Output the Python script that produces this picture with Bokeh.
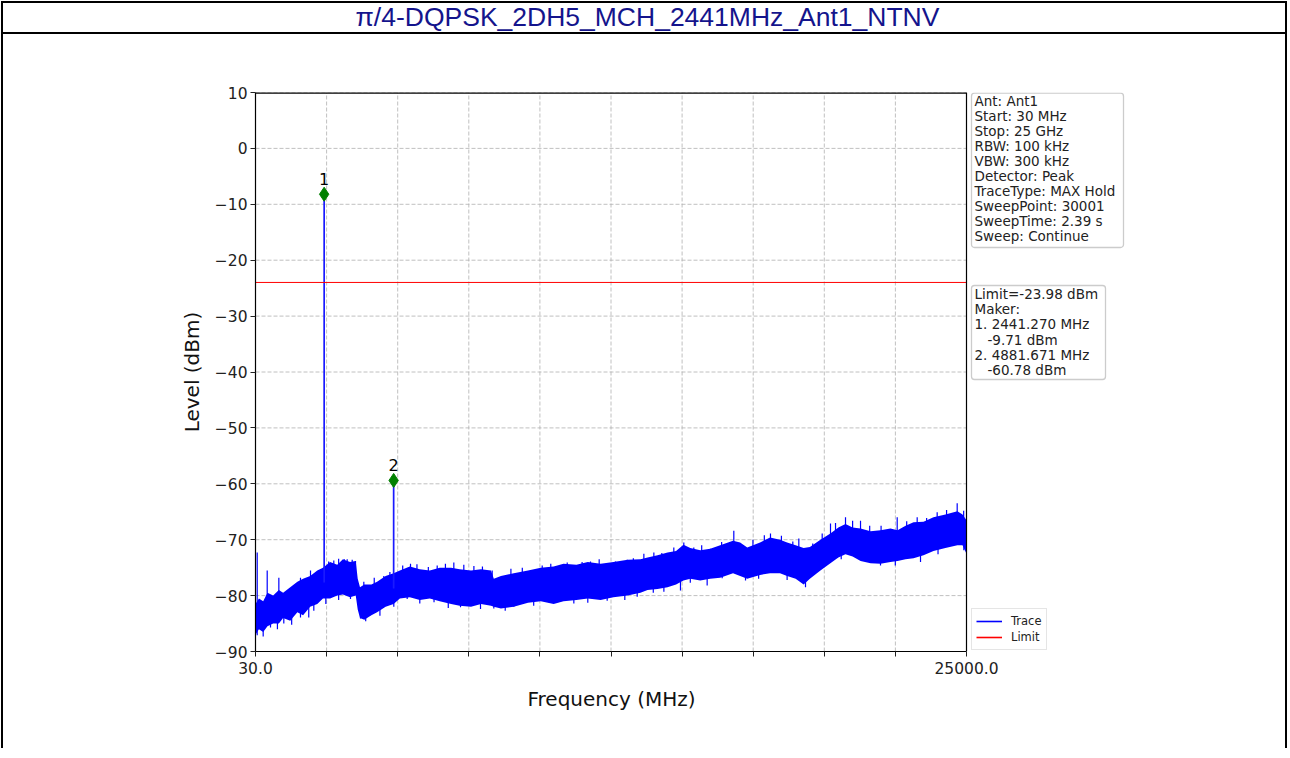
import numpy as np
from bokeh.plotting import figure
from bokeh.models import FixedTicker, Legend, LegendItem, Range1d, Title
from bokeh.layouts import column
from bokeh.embed import file_html
from bokeh.resources import INLINE
from bokeh.core.properties import value

TITLE = "π/4-DQPSK_2DH5_MCH_2441MHz_Ant1_NTNV"

# noise band envelope of the trace (MHz, dBm)
freq = [30, 150, 300, 450, 650, 850, 1000, 1250, 1500, 1700, 1950, 2200, 2400, 2650,
        2900, 3100, 3350, 3550, 3620, 3700, 3850, 4100, 4300, 4600, 4880, 5100, 5450,
        5800, 6150, 6500, 6900, 7200, 7600, 7950, 8300, 8400, 8650, 9100, 9600, 10050,
        10500, 10850, 11300, 11700, 12150, 12600, 13100, 13550, 13800, 14150, 14500,
        14800, 15060, 15300, 15650, 16000, 16350, 16800, 17050, 17300, 17750, 18100,
        18450, 18700, 19000, 19280, 19500, 19870, 20220, 20500, 20750, 21000, 21280,
        21630, 21980, 22330, 22580, 22860, 23140, 23490, 23840, 24260, 24680, 24860, 25000]
top = [-81.5, -80.5, -81.0, -79.5, -80.0, -79.0, -79.5, -78.5, -77.5, -77.0, -76.5, -75.5,
       -75.0, -74.0, -74.5, -73.5, -74.0, -73.8, -77.0, -78.5, -78.0, -78.0, -77.5, -76.5,
       -76.0, -75.5, -74.8, -75.3, -75.5, -75.0, -75.0, -75.3, -75.5, -75.3, -75.5, -77.0,
       -76.5, -76.0, -75.5, -75.0, -74.8, -74.3, -74.5, -74.0, -74.3, -74.0, -73.6, -73.5,
       -73.2, -72.8, -72.3, -72.0, -70.9, -71.5, -71.9, -71.6, -71.0, -70.2, -70.5, -71.4,
       -70.5, -69.6, -70.0, -70.5, -71.0, -71.5, -71.3, -70.0, -68.9, -67.8, -67.2, -67.8,
       -68.0, -68.5, -68.3, -68.0, -68.3, -67.5, -66.9, -66.8, -66.0, -65.5, -64.9, -65.5, -66.5]
bottom = [-87.0, -86.0, -86.5, -85.5, -85.0, -85.0, -84.0, -84.5, -83.0, -83.5, -82.0, -81.5,
          -80.5, -80.5, -80.0, -79.8, -80.3, -80.0, -82.5, -84.0, -84.3, -83.5, -83.0, -82.0,
          -81.5, -80.5, -80.3, -80.8, -80.5, -81.0, -81.5, -81.8, -82.0, -81.5, -81.8, -82.0,
          -82.3, -82.0, -81.3, -81.0, -81.5, -81.0, -80.8, -80.5, -80.8, -80.3, -80.0, -79.5,
          -79.0, -78.8, -78.5, -78.0, -77.3, -77.0, -77.3, -77.0, -76.8, -76.0, -76.5, -77.0,
          -76.3, -76.0, -76.0, -76.5, -77.0, -78.0, -77.0, -75.5, -74.2, -73.2, -72.6, -73.0,
          -73.8, -74.2, -74.3, -74.0, -73.8, -73.5, -73.3, -72.8, -72.0, -71.5, -71.0, -71.0, -72.5]

# upward excursions of the noise (peaks above the band)
up_freq = [90, 441, 850, 1610, 1962, 2600, 2780, 2950, 3150, 3250, 3426, 3542,
           3834, 4200, 4536, 4750, 5200, 5474, 5700, 6100, 6411, 6700, 6995,
           7346, 7700, 8000, 8343, 9000, 9400, 9688, 10099, 10400, 10977, 11500, 11795,
           12100, 12673, 13084, 13300, 13669, 14020, 14300, 14721, 15072, 15423, 15700,
           16010, 16400, 16828, 17500, 17900, 18116, 18500, 18900, 19111, 19600, 19932,
           20224, 20400, 20751, 21000, 21278, 21600, 22000, 22566, 22900, 23268, 23600,
           23970, 24300, 24673, 24900]
up_level = [-72.3, -75.5, -76.8, -76.8, -75.5, -73.9, -73.7, -73.4, -73.5, -73.5,
            -73.6, -73.8, -77.5, -76.8, -76.5, -75.8, -74.6, -74.3, -74.4, -74.9,
            -74.6, -74.3, -74.1, -74.5, -74.7, -74.8, -75.5, -75.2, -75.0, -75.5, -74.6,
            -74.3, -74.1, -74.0, -73.9, -73.5, -73.9, -73.6, -73.3, -72.5, -72.3, -72.4,
            -71.4, -70.5, -71.4, -71.0, -71.6, -70.4, -68.4, -70.0, -69.2, -68.9, -69.3,
            -70.3, -69.8, -70.7, -68.9, -67.1, -67.0, -66.0, -66.6, -66.6, -67.5, -67.5,
            -66.0, -66.7, -66.0, -66.1, -65.1, -64.7, -63.5, -64.8]
# downward excursions of the noise
down_freq = [90, 300, 557, 800, 1024, 1300, 1610, 1900, 2078, 2500, 2950, 3366, 3718, 3900,
             4069, 4400, 4887, 5357, 5800, 6300, 6800, 7230, 7932, 8400, 8800, 9102, 9800,
             10274, 11210, 11700, 12381, 13000, 13435, 14000, 14372, 14955, 15300, 15892,
             16420, 17239, 17700, 18700, 19346, 20600, 21980, 22500, 23385, 24000, 24906]
down_level = [-87.1, -87.3, -85.7, -86.0, -85.0, -85.2, -83.9, -83.9, -82.7, -81.5, -80.8,
              -80.6, -84.1, -84.6, -83.5, -83.6, -82.0, -80.6, -81.4, -81.2, -82.2, -82.1,
              -82.4, -82.3, -82.7, -82.0, -81.8, -80.9, -81.4, -81.3, -80.9, -80.8, -80.2,
              -79.5, -79.3, -79.1, -77.7, -78.2, -76.9, -77.3, -77.0, -77.2, -78.5, -73.5,
              -74.6, -74.6, -74.0, -72.6, -71.9]

# emissions with markers (diamonds drawn where the picture shows them)
marker_freq = [2441.270, 4881.671]
marker_level = [-8.2, -59.4]
marker_text = ["1", "2"]

limit_level = -23.98
x_start, x_stop = 30.0, 25000.0
y_ticks = [-90, -80, -70, -60, -50, -40, -30, -20, -10, 0, 10]
x_tick_labels = ["30.0", "", "", "", "", "", "", "", "", "", "25000.0"]

info_lines = ["Ant: Ant1", "Start: 30 MHz", "Stop: 25 GHz", "RBW: 100 kHz", "VBW: 300 kHz",
              "Detector: Peak", "TraceType: MAX Hold", "SweepPoint: 30001",
              "SweepTime: 2.39 s", "Sweep: Continue"]
marker_lines = ["Limit=-23.98 dBm", "Maker:", "1. 2441.270 MHz", "-9.71 dBm",
                "2. 4881.671 MHz", "-60.78 dBm"]
marker_indent = [0, 0, 0, 13, 0, 13]
legend_labels = ["Trace", "Limit"]

FONT = "DejaVu Sans"
W = 1282
LEFT = 252
FW, FH = 711, 559           # size of the data area (30..25000 MHz, -90..10 dBm)
EXTRA = 170                 # frame extends right of the data area for the side boxes
RIGHT = W - LEFT - FW - EXTRA
mpp = (x_stop - x_start) / FW
dpp = 100.0 / FH

# ---- title strip (frame aligned with the main plot's frame) ----
tf = figure(frame_width=FW + EXTRA, frame_height=29, min_border_left=LEFT,
            min_border_right=RIGHT, min_border_top=0, min_border_bottom=0,
            x_range=Range1d(0, FW + EXTRA), y_range=Range1d(0, 29),
            toolbar_location=None, output_backend="svg",
            styles={"border-bottom": "2px solid black"})
tf.axis.visible = False
tf.grid.visible = False
tf.outline_line_color = None
tf.text(x=[392], y=[16], text=[TITLE], text_align="center", text_baseline="middle",
        text_font=value("Liberation Sans"), text_font_size="26.5px", text_color="#14148c")

# ---- main plot ----
p = figure(frame_width=FW + EXTRA, frame_height=FH, min_border_left=LEFT,
           min_border_right=RIGHT, min_border_top=58, min_border_bottom=97,
           x_range=Range1d(x_start, x_start + (FW + EXTRA) * mpp), y_range=Range1d(-90, 10),
           toolbar_location=None, output_backend="svg")
p.outline_line_color = None
p.grid.visible = False

x_ticks = [x_start + i * (x_stop - x_start) / 10 for i in range(11)]
p.xaxis.ticker = FixedTicker(ticks=x_ticks)
p.xaxis.major_label_overrides = {t: s for t, s in zip(x_ticks, x_tick_labels)}
p.yaxis.ticker = FixedTicker(ticks=y_ticks)
p.yaxis.major_label_overrides = {t: str(t).replace("-", "\u2212") for t in y_ticks}
p.xaxis.bounds = (x_start, x_stop)
p.yaxis.bounds = (-90, 10)
for ax in (p.xaxis[0], p.yaxis[0]):
    ax.axis_line_color = "black"
    ax.axis_line_width = 1.2
    ax.major_tick_line_color = "#222222"
    ax.major_tick_out = 5
    ax.major_tick_in = 0
    ax.minor_tick_line_color = None
    ax.major_label_text_font = FONT
    ax.major_label_text_font_size = "15.5px"
    ax.major_label_text_color = "#222222"
    ax.axis_label_text_font = FONT
    ax.axis_label_text_font_size = "20px"
    ax.axis_label_text_font_style = "normal"
    ax.axis_label_text_color = "#111111"
p.yaxis.axis_label = "Level (dBm)"
p.xaxis.major_label_standoff = 5
p.yaxis.major_label_standoff = 3
p.yaxis.axis_label_standoff = 8

# x axis title centred under the data area (not under the wider frame)
p.add_layout(Title(text="Frequency (MHz)", align="left", offset=272, vertical_align="top",
                   standoff=20, text_font=FONT, text_font_size="20px",
                   text_font_style="normal", text_color="#111111"), "below")

# dashed grid limited to the data area
grid = dict(line_color="#b0b0b0", line_dash="4 2", line_width=0.8)
p.segment(x0=x_ticks, y0=[-90] * len(x_ticks), x1=x_ticks, y1=[10] * len(x_ticks), **grid)
p.segment(x0=[x_start] * len(y_ticks), y0=y_ticks, x1=[x_stop] * len(y_ticks), y1=y_ticks, **grid)

BLUE = "#0000ff"
RED = "#ff0000"
p.varea(x=freq, y1=bottom, y2=top, fill_color=BLUE)
mid = (np.array(top) + np.array(bottom)) / 2
p.segment(x0=up_freq, y0=np.interp(up_freq, freq, mid), x1=up_freq, y1=up_level,
          line_color=BLUE, line_width=1.2)
p.segment(x0=down_freq, y0=np.interp(down_freq, freq, mid), x1=down_freq, y1=down_level,
          line_color=BLUE, line_width=1.2)
p.segment(x0=marker_freq, y0=np.interp(marker_freq, freq, mid), x1=marker_freq,
          y1=marker_level, line_color="#1a1aff", line_width=1.7)
p.line([x_start, x_stop], [limit_level, limit_level], line_color=RED, line_width=1)

# top and right spines
p.segment(x0=[x_start], y0=[10], x1=[x_stop], y1=[10], line_color="black", line_width=2.4)
p.segment(x0=[x_stop], y0=[-90], x1=[x_stop], y1=[10], line_color="black", line_width=1.2)

p.scatter(marker_freq, marker_level, marker="diamond", size=14, fill_color="#008000",
          line_color="#008000")
p.text(x=marker_freq, y=marker_level, text=marker_text, text_align="center",
       text_baseline="bottom", y_offset=-9, text_font=value(FONT), text_font_size="16px",
       text_color="black")

# side boxes (parameters and markers)
box = dict(fill_color="white", line_color="#cccccc", line_width=1.3, border_radius=3)
p.quad(left=[x_stop + 5 * mpp], right=[x_stop + 157 * mpp], top=[10 - 0.7 * dpp],
       bottom=[10 - 155 * dpp], **box)
p.quad(left=[x_stop + 5 * mpp], right=[x_stop + 139 * mpp], top=[10 - 193 * dpp],
       bottom=[10 - 287 * dpp], **box)
txt = dict(text_align="left", text_baseline="middle", text_font=value(FONT),
           text_font_size="13.5px", text_color="#222222")
n1, n2 = len(info_lines), len(marker_lines)
p.text(x=[x_stop] * n1, y=[10] * n1, text=info_lines, x_offset=8,
       y_offset=[8.5 + 15 * i for i in range(n1)], **txt)
p.text(x=[x_stop] * n2, y=[10] * n2, text=marker_lines,
       x_offset=[8 + d for d in marker_indent],
       y_offset=[201.5 + 15.2 * i for i in range(n2)], **txt)

# legend: sample renderers placed below the visible range (only their legend glyph shows)
lg_trace = p.line([x_start, x_stop], [-500, -500], line_color=BLUE, line_width=1.6)
lg_limit = p.line([x_start, x_stop], [-500, -500], line_color=RED, line_width=1.6)
legend = Legend(items=[LegendItem(label=legend_labels[0], renderers=[lg_trace]),
                       LegendItem(label=legend_labels[1], renderers=[lg_limit])],
                location=(716, 1), label_text_font=FONT, label_text_font_size="11.5px",
                label_text_color="#222222",
                glyph_width=26, glyph_height=16, label_height=16, spacing=0, padding=4,
                margin=0, label_standoff=9, border_line_color="#cccccc",
                border_line_width=1.2, background_fill_alpha=1)
p.add_layout(legend)

layout = column(tf, p, styles={"border": "2px solid black", "border-bottom": "none",
                               "margin-left": "1px", "margin-top": "1px"})

open("out.html", "w").write(file_html(layout, INLINE))
